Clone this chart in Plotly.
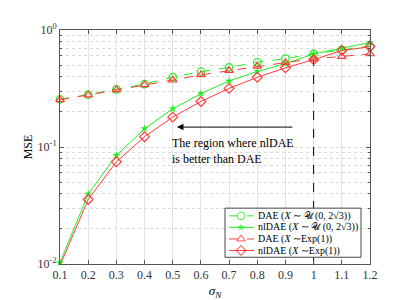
import math
import plotly.graph_objects as go

sigma = [0.1, 0.2, 0.3, 0.4, 0.5, 0.6, 0.7, 0.8, 0.9, 1.0, 1.1, 1.2]
dae_unif = [0.256, 0.280, 0.311, 0.345, 0.396, 0.440, 0.480, 0.530, 0.570, 0.625, 0.675, 0.730]
nldae_unif = [0.0103, 0.0396, 0.0848, 0.1435, 0.212, 0.286, 0.367, 0.441, 0.515, 0.625, 0.700, 0.780]
dae_exp = [0.253, 0.278, 0.309, 0.340, 0.373, 0.414, 0.450, 0.490, 0.527, 0.566, 0.594, 0.625]
nldae_exp = [0.0097, 0.0356, 0.0747, 0.1225, 0.180, 0.245, 0.317, 0.394, 0.475, 0.558, 0.667, 0.720]

tick_labels = ["0.1", "0.2", "0.3", "0.4", "0.5", "0.6", "0.7", "0.8", "0.9", "1", "1.1", "1.2"]
threshold_sigma = 1.0
threshold_span = [0.01, 0.56]
arrow_level = 0.148

names = ["DAE (<i>X</i> ∼ 𝒰 (0, 2√3))", "nlDAE (<i>X</i> ∼ 𝒰 (0, 2√3))",
         "DAE (<i>X</i> ∼Exp(1))", "nlDAE (<i>X</i> ∼Exp(1))"]

green = "#22ee22"
red = "#ff3b3b"
font = "Liberation Serif"

styles = [
    dict(color=green, dash="dash", symbol="circle-open", size=7.5, lw=1.2),
    dict(color=green, dash="solid", symbol="star", size=6, lw=0),
    dict(color=red, dash="dash", symbol="triangle-up-open", size=7.5, lw=1.2),
    dict(color=red, dash="solid", symbol="diamond-open", size=7.5, lw=1.2),
]
series = [dae_unif, nldae_unif, dae_exp, nldae_exp]

fig = go.Figure()

# dashed vertical marker at sigma = 1
fig.add_trace(go.Scatter(x=[threshold_sigma, threshold_sigma], y=threshold_span, mode="lines",
                         line=dict(color="black", width=1, dash="dash"), showlegend=False,
                         hoverinfo="skip"))

for s, st, nm in zip(series, styles, names):
    fig.add_trace(go.Scatter(x=sigma, y=s, name=nm, mode="lines+markers", showlegend=False,
        line=dict(color=st["color"], width=1, dash=st["dash"]),
        marker=dict(symbol=st["symbol"], size=st["size"], color=st["color"],
                    line=dict(width=st["lw"], color=st["color"])),
        cliponaxis=False))

# arrow annotation (log axis -> log10 coordinates)
ay = math.log10(arrow_level)
fig.add_annotation(x=0.515, y=ay, ax=0.93, ay=ay, xref="x", yref="y", axref="x", ayref="y",
                   showarrow=True, arrowhead=2, arrowsize=1.3, arrowwidth=1, arrowcolor="black", text="")
fig.add_annotation(x=0.49, y=math.log10(0.093), xref="x", yref="y", xanchor="left", yanchor="middle",
                   text="The region where nlDAE<br>is better than DAE", showarrow=False, align="left",
                   font=dict(family=font, size=12, color="black"))

# compact legend drawn in an overlay axis with range [0, 1]
L, R, T, B = 52, 362, 22, 265
px = lambda v: (v - L) / (R - L)
py = lambda v: (B - v) / (B - T)
bx0, bx1, by0, by1 = px(217), px(353), py(258), py(207)
fig.add_trace(go.Scatter(x=[bx0, bx1, bx1, bx0, bx0], y=[by0, by0, by1, by1, by0], xaxis="x2", yaxis="y2",
                         mode="lines", fill="toself", fillcolor="white",
                         line=dict(color="#444444", width=1), showlegend=False, hoverinfo="skip"))
rows = [215, 227, 239, 251]
for r, st, nm in zip(rows, styles, names):
    fig.add_trace(go.Scatter(x=[px(221), px(233), px(246)], y=[py(r)] * 3, xaxis="x2", yaxis="y2",
        mode="lines+markers", showlegend=False, hoverinfo="skip",
        line=dict(color=st["color"], width=1, dash=st["dash"]),
        marker=dict(symbol=st["symbol"], size=[0, st["size"], 0], color=st["color"],
                    line=dict(width=st["lw"], color=st["color"]))))
    fig.add_annotation(x=px(248), y=py(r), xref="paper", yref="paper", xanchor="left", yanchor="middle",
                       text=nm, showarrow=False, font=dict(family=font, size=10, color="black"))

fig.update_layout(
    width=399, height=300,
    margin=dict(l=L, r=399 - R, t=T, b=300 - B),
    paper_bgcolor="white", plot_bgcolor="white",
    font=dict(family=font, size=12, color="#333333"),
    showlegend=False,
    xaxis2=dict(overlaying="x", range=[0, 1], visible=False, fixedrange=True),
    yaxis2=dict(overlaying="y", range=[0, 1], visible=False, fixedrange=True),
)
fig.update_layout(xaxis=dict(range=[0.1, 1.2], tickvals=sigma, ticktext=tick_labels,
                 showgrid=True, gridcolor="#e3e3e3", gridwidth=1,
                 showline=True, linecolor="#555555", linewidth=1, mirror="ticks",
                 ticks="inside", ticklen=4, tickcolor="#555555",
                 title=dict(text="<i>σ<sub>N</sub></i>", standoff=4, font=dict(size=13, color="black")),
                 zeroline=False))
fig.update_layout(yaxis=dict(type="log", range=[-2, 0], tickvals=[0.01, 0.1, 1],
                 ticktext=["10<sup>-2</sup>", "10<sup>-1</sup>", "10<sup>0</sup>"],
                 showgrid=True, gridcolor="#d8d8d8", griddash="dot", gridwidth=1,
                 minor=dict(showgrid=True, gridcolor="#d8d8d8", griddash="dot",
                            tickvals=[v * d for d in (0.01, 0.1) for v in range(2, 10)],
                            ticks="inside", ticklen=2, tickcolor="#555555"),
                 showline=True, linecolor="#555555", linewidth=1, mirror="ticks",
                 ticks="inside", ticklen=4, tickcolor="#555555",
                 title=dict(text="MSE", standoff=2, font=dict(size=12, color="black")),
                 zeroline=False))

fig.write_html("out.html")
